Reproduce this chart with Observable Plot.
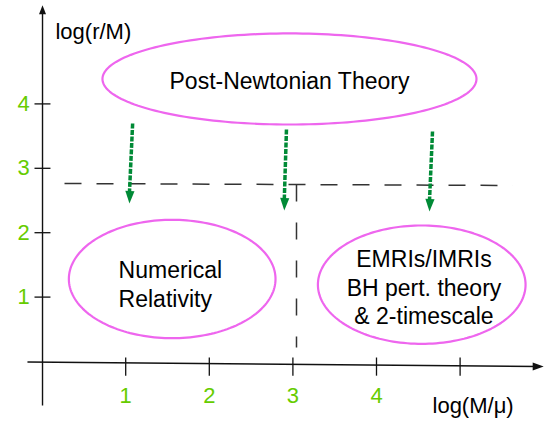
<!DOCTYPE html>
<html><head><meta charset="utf-8">
<script src="https://cdn.jsdelivr.net/npm/d3@7"></script>
<script src="https://cdn.jsdelivr.net/npm/@observablehq/plot@0.6"></script>
<style>html,body{margin:0;padding:0;background:#fff} svg{display:block}</style>
</head><body><div id="chart"></div>
<script>
// ---- data (all in chart units: x = log(M/mu), y = log(r/M)) ----
const yTickValues = [1, 2, 3, 4];
const yTickLabels = ["1", "2", "3", "4"];
const xTickValues = [1, 2, 3, 4, 5];
const xTickLabels = ["1", "2", "3", "4", ""];
const yAxisTitle = "log(r/M)";
const xAxisTitle = "log(M/\u03bc)";

const regionNames = ["Post-Newtonian Theory", "Numerical\nRelativity", "EMRIs/IMRIs\nBH pert. theory\n& 2-timescale"];
const regionCx = [2.959, 1.556, 4.541];
const regionCy = [4.387, 1.281, 1.193];
const regionRx = [2.237, 1.236, 1.242];
const regionRy = [0.707, 0.919, 0.919];
const regionLabelX = [2.959, 0.915, 4.568];
const regionLabelY = [4.379, 1.215, 1.160];
const regionLabelAnchor = ["middle", "start", "middle"];

const arrowX1 = [1.083, 2.923, 4.670];
const arrowY1 = [3.696, 3.602, 3.571];
const arrowX2 = [1.045, 2.897, 4.634];
const arrowY2 = [2.453, 2.345, 2.329];

const rBoundary = {x1: 0.268, y1: 2.764, x2: 5.627, y2: 2.733};
const muBoundary = {x: 3.043, y1: 2.748, y2: 0.217};

// ---- styles ----
const FONT = '"Liberation Sans", Arial, Helvetica, sans-serif';
const TICK_GREEN = "#66cc00";
const ARROW_GREEN = "#008a36";
const ELLIPSE = "#ee66ee";
const AXIS = "#111";

function arrowHead(len, halfW) {
  return {draw(ctx) { ctx.moveTo(0, 0); ctx.lineTo(-halfW, -len); ctx.lineTo(halfW, -len); ctx.closePath(); }};
}

// ellipse outlines built from the region centres / radii
const ellipsePts = regionNames.flatMap((name, i) =>
  d3.range(0, 360, 2).map(a => ({
    name,
    x: regionCx[i] + regionRx[i] * Math.cos(a * Math.PI / 180),
    y: regionCy[i] + regionRy[i] * Math.sin(a * Math.PI / 180)
  })));

const regions = regionNames.map((name, i) => ({name, x: regionLabelX[i], y: regionLabelY[i], anchor: regionLabelAnchor[i]}));
const arrows = arrowX1.map((x1, i) => ({x1, y1: arrowY1[i], x2: arrowX2[i], y2: arrowY2[i]}));

const chart = Plot.plot({
  width: 546,
  height: 423,
  margin: 0,
  style: {background: "#fff", fontFamily: FONT, overflow: "visible"},
  x: {domain: [0, 5], range: [41.6, 459.6], axis: null},
  y: {domain: [0, 4], range: [361, 103.4], axis: null},
  marks: [
    // axes
    Plot.link([0], {x1: () => 0.005, y1: () => -0.683, x2: () => 0.005, y2: () => 5.45, stroke: AXIS, strokeWidth: 1.4}),
    Plot.dot([0], {x: () => 0.005, y: () => 5.53, symbol: arrowHead(9, 3.5), fill: AXIS, stroke: "none", rotate: 180}),
    Plot.link([0], {x1: () => -0.175, y1: () => -0.008, x2: () => 5.93, y2: () => -0.077, stroke: AXIS, strokeWidth: 1.4}),
    Plot.dot([0], {x: () => 6.0, y: () => -0.078, symbol: arrowHead(11, 4), fill: AXIS, stroke: "none", rotate: -90}),
    // ticks
    Plot.link(yTickValues, {x1: () => -0.091, x2: () => 0.10, y1: d => d, y2: d => d, stroke: AXIS, strokeWidth: 1.3}),
    Plot.link(xTickValues, {x1: d => d, x2: d => d, y1: () => 0.062, y2: () => -0.22, stroke: AXIS, strokeWidth: 1.3}),
    Plot.text(yTickValues, {x: () => -0.222, y: d => d, text: (d, i) => yTickLabels[i], fill: TICK_GREEN, fontSize: 22, fontFamily: FONT}),
    Plot.text(xTickValues, {x: d => d, y: () => -0.528, text: (d, i) => xTickLabels[i], fill: TICK_GREEN, fontSize: 22, fontFamily: FONT}),
    Plot.text([yAxisTitle], {x: () => 0.16, y: () => 5.11, text: d => d, textAnchor: "start", fill: "#000", fontSize: 22, fontFamily: FONT}),
    Plot.text([xAxisTitle], {x: () => 4.67, y: () => -0.683, text: d => d, textAnchor: "start", fill: "#000", fontSize: 22, fontFamily: FONT}),
    // boundaries
    Plot.link([rBoundary], {x1: "x1", y1: "y1", x2: "x2", y2: "y2", stroke: "#333", strokeWidth: 1.5, strokeDasharray: "17,15"}),
    Plot.link([muBoundary], {x1: "x", y1: "y1", x2: "x", y2: "y2", stroke: "#333", strokeWidth: 1.5, strokeDasharray: "17,21"}),
    // regions
    Plot.line(ellipsePts, {x: "x", y: "y", z: "name", curve: "linear-closed", stroke: ELLIPSE, strokeWidth: 2.2}),
    Plot.text(regions.filter(d => d.anchor === "middle"), {x: "x", y: "y", text: "name", textAnchor: "middle", lineAnchor: "middle", lineHeight: 1.24, fill: "#000", fontSize: 23, fontFamily: FONT}),
    Plot.text(regions.filter(d => d.anchor === "start"), {x: "x", y: "y", text: "name", textAnchor: "start", lineAnchor: "middle", lineHeight: 1.28, fill: "#000", fontSize: 23, fontFamily: FONT}),
    // green arrows
    Plot.link(arrows, {x1: "x1", y1: "y1", x2: "x2", y2: d => d.y2 + 0.17, stroke: ARROW_GREEN, strokeWidth: 3.5, strokeDasharray: "5,1.5"}),
    Plot.dot(arrows, {x: "x2", y: "y2", symbol: arrowHead(12.5, 4.6), fill: ARROW_GREEN, stroke: "none", rotate: 2})
  ]
});
document.getElementById("chart").append(chart);
</script>
</body></html>
